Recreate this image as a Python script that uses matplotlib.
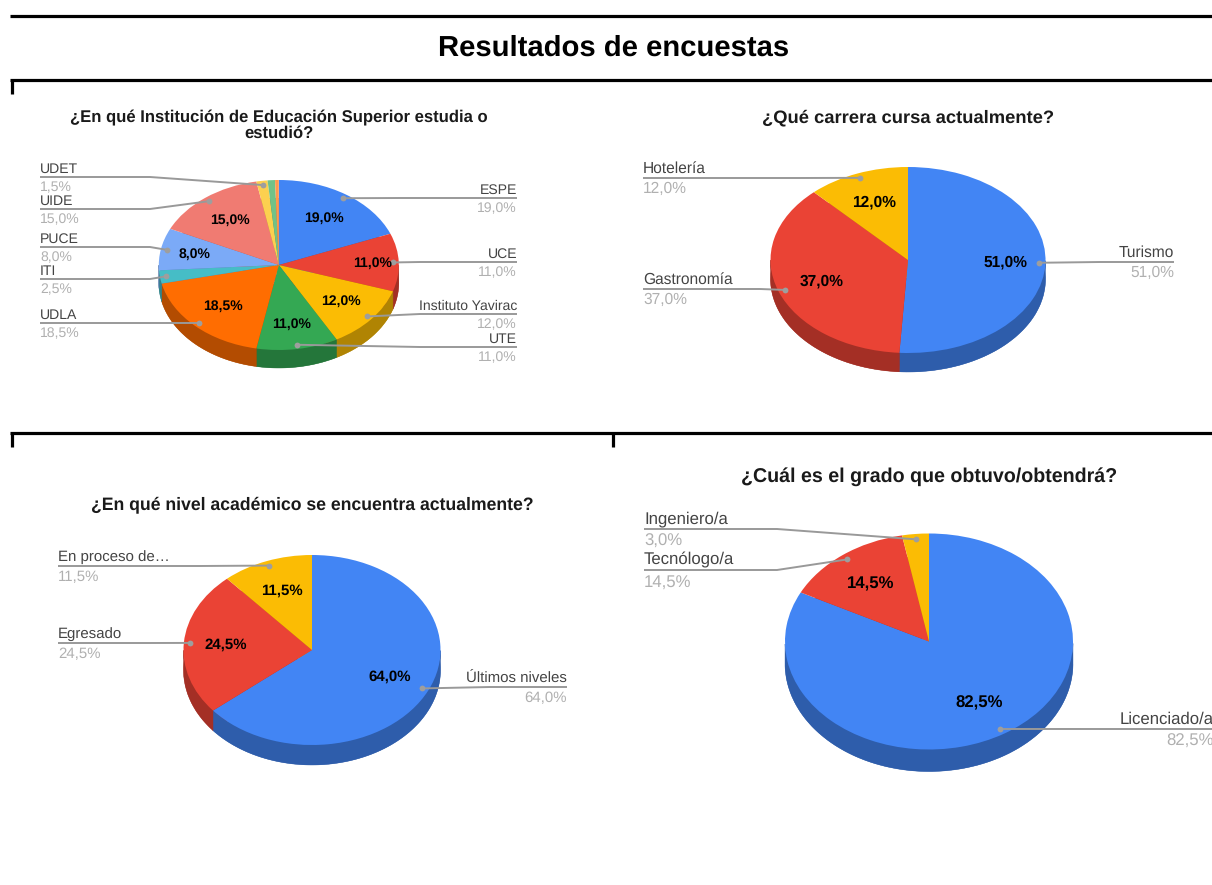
import numpy as np
import matplotlib
matplotlib.use("Agg")
import matplotlib.pyplot as plt
from matplotlib.colors import to_rgb
from matplotlib.transforms import Affine2D

plt.rcParams['font.family'] = ['Liberation Sans', 'DejaVu Sans']
plt.rcParams['text.hinting'] = 'no_hinting'
plt.rcParams['text.hinting_factor'] = 8

BLUE, RED, YELLOW, GREEN, ORANGE = '#4285F4', '#EA4335', '#FBBC04', '#34A853', '#FF6D01'
TEAL, LBLUE, SALMON, LYELLOW, LGREEN, LORANGE = '#46BDC6', '#7BAAF7', '#F07B72', '#FCD04F', '#71C287', '#FF994D'

# data, clockwise from 12 o'clock
inst_labels = ['ESPE', 'UCE', 'Instituto Yavirac', 'UTE', 'UDLA', 'ITI', 'PUCE', 'UIDE', 'UDET', '', '']
inst_values = [19.0, 11.0, 12.0, 11.0, 18.5, 2.5, 8.0, 15.0, 1.5, 1.0, 0.5]
inst_colors = [BLUE, RED, YELLOW, GREEN, ORANGE, TEAL, LBLUE, SALMON, LYELLOW, LGREEN, LORANGE]

carrera_labels = ['Turismo', 'Gastronomía', 'Hotelería']
carrera_values = [51.0, 37.0, 12.0]

nivel_labels = ['Últimos niveles', 'Egresado', 'En proceso de…']
nivel_values = [64.0, 24.5, 11.5]

grado_labels = ['Licenciado/a', 'Tecnólogo/a', 'Ingeniero/a']
grado_values = [82.5, 14.5, 3.0]

W, H = 1212, 885
fig = plt.figure(figsize=(W/100, H/100), dpi=100)
ax = fig.add_axes([0, 0, 1, 1])


def Y(y):
    # picture px (from top) to axes y
    return H - y


def pie3d(title, title_y, title_x, labels, values, colors, cx, cy, rx, ry, depth,
          line_y, left_x, right_x, bend, fs=10.1, tfs=12.0, nudge={}):
    cy = Y(cy)
    squash = Affine2D().translate(-cx, -cy).scale(1, ry/rx).translate(cx, cy)
    dark = [tuple(0.7*c for c in to_rgb(k)) for k in colors]

    # bottom disc
    w, _ = ax.pie(values, colors=dark, startangle=90, counterclock=False, radius=rx,
                  center=(cx, cy), frame=True)
    down = Affine2D().translate(0, -depth)
    for p in w:
        p.set_transform(squash + down + ax.transData)
        p.set_zorder(1)

    # rim, only the part facing us
    fr = np.array(values)/sum(values)
    cum = np.concatenate([[0], np.cumsum(fr)])
    for i in range(len(values)):
        a0, a1 = 90 - 360*cum[i], 90 - 360*cum[i+1]
        t = np.radians(np.linspace(a0, a1, 200))
        t = t[np.sin(t) <= 0]
        if len(t) < 2:
            continue
        xs = cx + rx*np.cos(t)
        ys = cy + ry*np.sin(t)
        ax.fill(np.r_[xs, xs[::-1]], np.r_[ys, ys[::-1]-depth], color=dark[i], lw=0.3, zorder=2)

    # top
    w, _ = ax.pie(values, colors=colors, startangle=90, counterclock=False, radius=rx,
                  center=(cx, cy), frame=True, wedgeprops=dict(lw=0.3, edgecolor='none'))
    for p in w:
        p.set_transform(squash + ax.transData)
        p.set_zorder(3)

    # labels
    for i, lab in enumerate(labels):
        if lab == '':
            continue
        mid = np.radians(90 - 180*(cum[i] + cum[i+1]))
        px = cx + 0.95*rx*np.cos(mid)
        py = cy + 0.95*ry*np.sin(mid)
        pct = f'{values[i]:.1f}%'.replace('.', ',')
        # thin slices get no inner label
        if values[i] >= 5:
            dx, dy = nudge.get(i, (0, 0))
            tx = cx + 0.67*rx*np.cos(mid) + dx
            ty = cy + 0.67*ry*np.sin(mid) + dy
            ax.text(tx, ty, pct, fontsize=fs, fontweight='bold', color='black', ha='center', va='center', zorder=6)

        ly = Y(line_y[i])
        right = np.cos(mid) > 0
        endx = right_x if right else left_x
        ax.plot([endx, bend[i], px], [ly, ly, py], color='#999999', lw=1.4, zorder=5, solid_capstyle='butt')
        ax.plot([px], [py], 'o', color='#9e9e9e', ms=4.2, mew=0, zorder=5)
        ha = 'right' if right else 'left'
        ax.text(endx, ly + fs*0.8, lab, fontsize=fs, color='#444444', ha=ha, va='center', zorder=6)
        ax.text(endx, ly - fs*1.0, pct, fontsize=fs, color='#b0b0b0', ha=ha, va='center', zorder=6)

    for i, line in enumerate(title):
        ax.text(title_x, Y(title_y + i*16), line, fontsize=tfs, fontweight='bold', color='#1a1a1a',
                ha='center', va='center', zorder=6)


pie3d(['¿En qué Institución de Educación Superior estudia o', 'estudió?'], 117.5, 278.5,
      inst_labels, inst_values, inst_colors, 278.8, 265, 120, 85, 18,
      [198, 262, 314, 347, 323, 279, 247, 209, 177, 0, 0], 40, 517,
      [400, 420, 420, 420, 150, 150, 150, 150, 150, 0, 0], tfs=11.95, nudge={1: (13, 0), 6: (-5, 0), 3: (0, -3)})
pie3d(['¿Qué carrera cursa actualmente?'], 117.5, 908.5,
      carrera_labels, carrera_values, [BLUE, RED, YELLOW], 908, 260, 137.5, 93, 19,
      [262, 289, 178], 643, 1174, [1100, 760, 800], fs=11.2, tfs=13.2, nudge={0: (5, 0)})
pie3d(['¿En qué nivel académico se encuentra actualmente?'], 505, 312.5,
      nivel_labels, nivel_values, [BLUE, RED, YELLOW], 312, 650, 128.5, 95, 20,
      [687, 643, 566], 58, 567, [490, 150, 200], fs=10.8, tfs=12.7)
pie3d(['¿Cuál es el grado que obtuvo/obtendrá?'], 477, 929,
      grado_labels, grado_values, [BLUE, RED, YELLOW], 929, 641.5, 144, 108, 22,
      [729, 570, 529], 644, 1214, [1100, 777, 777], fs=12.1, tfs=14.15)

# frame pieces around the panels
for y in [16, 80, 433]:
    ax.plot([10, W], [Y(y), Y(y)], color='black', lw=2.3, solid_capstyle='butt', zorder=7)
ax.plot([12, 12], [Y(80), Y(94)], color='black', lw=2.3, solid_capstyle='butt', zorder=7)
ax.plot([12, 12], [Y(433), Y(447)], color='black', lw=2.3, solid_capstyle='butt', zorder=7)
ax.plot([613, 613], [Y(433), Y(447)], color='black', lw=2.3, solid_capstyle='butt', zorder=7)

ax.text(613.5, Y(48.5), 'Resultados de encuestas', fontsize=21.1, fontweight='bold', color='black',
        ha='center', va='center', zorder=7)

ax.set_aspect('auto')
ax.set_xlim(0, W)
ax.set_ylim(0, H)
ax.axis('off')

plt.savefig('out.png', dpi=100)
